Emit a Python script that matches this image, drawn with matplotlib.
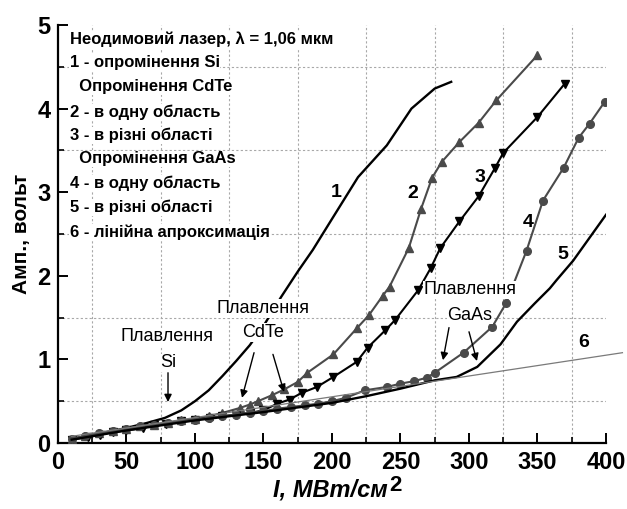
import matplotlib
matplotlib.use("Agg")
import matplotlib.pyplot as plt
from matplotlib.ticker import MultipleLocator

plt.rcParams['font.family'] = ['Liberation Sans', 'DejaVu Sans']

# ---- data ----
# 1 - Si
x1 = [10, 30, 50, 65, 78, 90, 100, 110, 120, 130, 140, 150, 163, 175, 186, 200, 219, 240, 258, 275, 287]
y1 = [0.05, 0.11, 0.18, 0.24, 0.30, 0.39, 0.50, 0.63, 0.80, 0.98, 1.17, 1.40, 1.75, 2.05, 2.31, 2.68, 3.18, 3.56, 4.00, 4.24, 4.32]

# 2 - CdTe, one region
x2 = [10, 20, 30, 40, 50, 60, 70, 80, 90, 100, 110, 120, 133, 140, 146, 156, 165, 175, 182, 201,
      218, 227, 237, 242, 256, 265, 273, 280, 293, 307, 320, 350]
y2 = [0.05, 0.08, 0.12, 0.14, 0.17, 0.20, 0.22, 0.24, 0.27, 0.29, 0.32, 0.36, 0.42, 0.46, 0.50, 0.57, 0.64, 0.73, 0.84, 1.06,
      1.37, 1.53, 1.76, 1.87, 2.33, 2.80, 3.17, 3.36, 3.60, 3.83, 4.10, 4.64]

# 3 - CdTe, different regions
x3 = [10, 22, 31, 40, 50, 62, 70, 79, 90, 100, 111, 120, 130, 140, 150, 160, 169, 178, 189, 201,
      218, 226, 239, 246, 263, 272, 279, 293, 307, 319, 325, 350, 370]
y3 = [0.04, 0.07, 0.10, 0.13, 0.15, 0.18, 0.21, 0.23, 0.26, 0.28, 0.30, 0.32, 0.34, 0.36, 0.39, 0.47, 0.52, 0.60, 0.67, 0.79,
      0.97, 1.14, 1.35, 1.47, 1.83, 2.09, 2.33, 2.65, 2.95, 3.29, 3.47, 3.90, 4.30]

# 4 - GaAs, one region
x4 = [10, 20, 30, 40, 50, 60, 70, 80, 90, 100, 110, 120, 130, 140, 150, 160, 170, 180, 190, 200,
      210, 224, 240, 250, 260, 269, 275, 296, 317, 327, 342, 354, 369, 380, 388, 399]
y4 = [0.05, 0.08, 0.12, 0.14, 0.17, 0.20, 0.22, 0.24, 0.26, 0.28, 0.30, 0.32, 0.34, 0.36, 0.38, 0.41, 0.43, 0.45, 0.47, 0.50,
      0.54, 0.63, 0.67, 0.71, 0.74, 0.78, 0.84, 1.08, 1.39, 1.67, 2.30, 2.90, 3.29, 3.65, 3.82, 4.08]

# 5 - GaAs, different regions
x5 = [10, 50, 100, 150, 200, 225, 250, 275, 291, 306, 323, 335, 348, 359, 364, 376, 400]
y5 = [0.04, 0.15, 0.27, 0.37, 0.48, 0.56, 0.65, 0.75, 0.79, 0.91, 1.18, 1.45, 1.67, 1.85, 1.95, 2.18, 2.73]

# 6 - linear approximation
x6 = [10, 412]
y6 = [0.08, 1.08]

legend_lines = [
    "Неодимовий лазер, λ = 1,06 мкм",
    "1 - опромінення Si",
    "  Опромінення CdTe",
    "2 - в одну область",
    "3 - в різні області",
    "  Опромінення GaAs",
    "4 - в одну область",
    "5 - в різні області",
    "6 - лінійна апроксимація",
]

gray = '#4a4a4a'

fig = plt.figure(figsize=(6.27, 5.09), dpi=100)
ax = fig.add_axes([0.0925, 0.1297, 0.874, 0.8212])

ax.plot(x1, y1, color='black', lw=1.7, zorder=3)
ax.plot(x2, y2, color=gray, lw=1.5, marker='^', ms=6, zorder=3)
ax.plot(x3, y3, color='black', lw=1.5, marker='v', ms=6, zorder=3)
ax.plot(x4, y4, color=gray, lw=1.5, marker='o', ms=5.5, zorder=3)
ax.plot(x5, y5, color='black', lw=1.7, zorder=3)
ax.plot(x6, y6, color='#7a7a7a', lw=0.9, zorder=3, clip_on=False)

ax.set_xlim(0, 400)
ax.set_ylim(0, 5)
ax.xaxis.set_major_locator(MultipleLocator(50))
ax.xaxis.set_minor_locator(MultipleLocator(25))
ax.yaxis.set_major_locator(MultipleLocator(1))
ax.yaxis.set_minor_locator(MultipleLocator(0.5))
ax.grid(which='minor', color='#a8a8a8', ls=(0, (2, 2)), lw=0.8, zorder=0)
ax.grid(which='major', visible=False)

for s in ['top', 'right']:
    ax.spines[s].set_visible(False)
for s in ['left', 'bottom']:
    ax.spines[s].set_linewidth(1.6)

ax.tick_params(which='major', direction='in', length=7, width=1.4, pad=5.5,
               labelsize=17)
ax.tick_params(which='minor', direction='in', length=4, width=1.2)
for lab in ax.get_xticklabels() + ax.get_yticklabels():
    lab.set_fontweight('bold')

# legend block
box = dict(facecolor='white', edgecolor='none', pad=0.5)
ys = [4.83, 4.55, 4.26, 3.96, 3.68, 3.40, 3.11, 2.82, 2.52]
for txt, y in zip(legend_lines, ys):
    ax.text(8.5, y, txt, fontsize=12, fontweight='bold', ha='left', va='center',
            bbox=box, zorder=5)

# curve numbers
nums = [("1", 203, 3.0), ("2", 259, 2.99), ("3", 308, 3.17),
        ("4", 343, 2.64), ("5", 368.5, 2.25), ("6", 384, 1.2)]
for t, x, y in nums:
    ax.text(x, y, t, fontsize=14, fontweight='bold', ha='center', va='center', zorder=5)

# melting labels
melt = [("Плавлення", 79.6, 1.27), ("Si", 80.3, 0.96),
        ("Плавлення", 149.6, 1.61), ("CdTe", 149.6, 1.32),
        ("Плавлення", 300.7, 1.83), ("GaAs", 300.7, 1.53)]
for t, x, y in melt:
    ax.text(x, y, t, fontsize=13, ha='center', va='center', bbox=box, zorder=5)

arrows = [((80.3, 0.84), (80.3, 0.49)),
          ((143.1, 1.08), (134.3, 0.54)),
          ((156.9, 1.06), (165.0, 0.61)),
          ((285.4, 1.38), (281.0, 0.99)),
          ((300.0, 1.33), (305.8, 0.98))]
for start, end in arrows:
    ax.annotate("", xy=end, xytext=start,
                arrowprops=dict(arrowstyle='-|>', color='black', lw=1.0,
                                mutation_scale=11, shrinkA=0, shrinkB=0),
                zorder=6)

ax.set_ylabel("Амп., вольт", fontsize=15, fontweight='bold')
ax.yaxis.set_label_coords(-0.05, 0.5)

fig.text(388 / 627, 1 - 497 / 509, "I, МВт/см", fontsize=17, fontweight='bold',
         fontstyle='italic', ha='right', va='baseline')
fig.text(389 / 627, 1 - 491 / 509, "2", fontsize=16, fontweight='bold',
         ha='left', va='baseline')

fig.savefig("out.png", dpi=100)
